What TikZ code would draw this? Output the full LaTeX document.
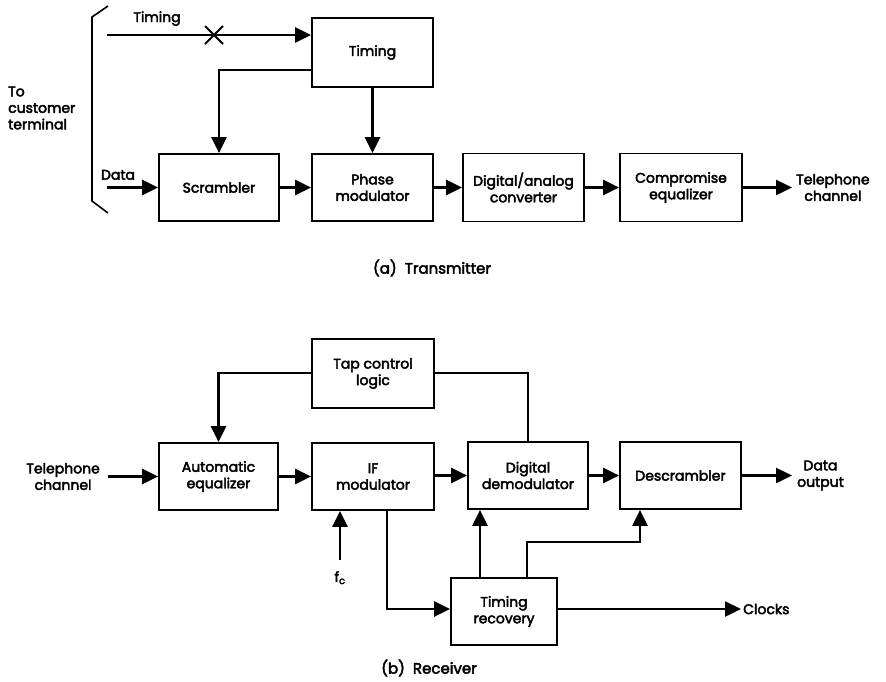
\documentclass[tikz,border=0pt]{standalone}
\usepackage{fontspec}
\setmainfont{Poppins}[FakeBold=3]
\usetikzlibrary{arrows.meta,calc}
\begin{document}
\begin{tikzpicture}[x=1pt,y=-1pt,
  box/.style={draw,line width=1.8pt,rectangle,align=center,font=\fontsize{14}{16.5}\selectfont,inner sep=0pt},
  arr/.style={line width=2.4pt,-{Triangle[length=16pt,width=15pt]}},
  ln/.style={line width=2.4pt},
  lbl/.style={align=center,font=\fontsize{14}{16.5}\selectfont,inner sep=0pt}]
\useasboundingbox (0,0) rectangle (886,681);
% ---------- Transmitter ----------
\node[box,minimum width=121pt,minimum height=69pt] (timing) at (372.5,52.5) {Timing};
\node[box,minimum width=120pt,minimum height=67pt] (scr) at (219,187.5) {Scrambler};
\node[box,minimum width=121pt,minimum height=67pt] (pm) at (372.5,187.5) {Phase\\modulator};
\node[box,minimum width=121pt,minimum height=68pt] (da) at (523.5,187.5) {Digital/analog\\converter};
\node[box,minimum width=122pt,minimum height=68pt] (ce) at (681,187.5) {Compromise\\equalizer};
\coordinate (tin) at (107,35);
\coordinate (din) at (107,187.5);
\coordinate (tout) at (792,187.5);
\draw[arr] (tin) -- (timing.west |- tin);
\coordinate (xm) at (214,35);
\draw[line width=2pt] ($(xm)+(-9,-9)$) -- ($(xm)+(9,9)$);
\draw[line width=2pt] ($(xm)+(-9,9)$) -- ($(xm)+(9,-9)$);
\coordinate (tl) at (312,70);
\draw[arr] (timing.west |- tl) -| (scr.north);
\draw[arr] (timing.south) -- (pm.north);
\draw[arr] (din) -- (scr.west);
\draw[arr] (scr) -- (pm);
\draw[arr] (pm) -- (da);
\draw[arr] (da) -- (ce);
\draw[arr] (ce.east) -- (tout);
\node[lbl,anchor=south] (tlab) at (157,26) {Timing};
\node[lbl,anchor=south] (dlab) at (118,180) {Data};
\node[lbl,anchor=west] (tel1) at (796,187.5) {Telephone\\channel};
\node[lbl,align=left,anchor=west] (cust) at (8,108) {To\\customer\\terminal};
\coordinate (b1) at (108,6);
\coordinate (b2) at (92,17);
\coordinate (b3) at (92,201);
\coordinate (b4) at (108,213);
\draw[line width=1.6pt] (b1) -- (b2) -- (b3) -- (b4);
\node[lbl,font=\fontsize{15}{17}\selectfont] (capa) at (432,268) {(a)\ \ Transmitter};
% ---------- Receiver ----------
\node[box,minimum width=122pt,minimum height=69pt] (tap) at (373,373.5) {Tap control\\logic};
\node[box,minimum width=119pt,minimum height=67pt] (aeq) at (218.5,476.5) {Automatic\\equalizer};
\node[box,minimum width=122pt,minimum height=67pt] (ifm) at (373,476.5) {IF\\modulator};
\node[box,minimum width=120pt,minimum height=67pt] (dem) at (528,475.5) {Digital\\demodulator};
\node[box,minimum width=121pt,minimum height=67pt] (des) at (680.5,475.5) {Descrambler};
\node[box,minimum width=106pt,minimum height=67pt] (tr) at (504,611.5) {Timing\\recovery};
\coordinate (rin) at (108,476.5);
\coordinate (dout) at (792,475.5);
\coordinate (fc) at (340,560);
\coordinate (clk) at (741,609);
\draw[arr] (rin) -- (aeq.west);
\draw[arr] (aeq) -- (ifm);
\draw[arr] (ifm.east |- dem) -- (dem.west);
\draw[arr] (dem) -- (des);
\draw[arr] (des.east) -- (dout);
\coordinate (tapl) at (312,373);
\draw[arr] (tap.west |- tapl) -| (aeq.north);
\draw[ln] (tap.east |- tapl) -| (dem.north);
\draw[arr] (fc) -- (fc |- ifm.south);
\coordinate (ifd) at (387,510);
\draw[arr] (ifd) |- (tr.west |- clk);
\coordinate (tr1) at (480,578);
\draw[arr] (tr1) -- (tr1 |- dem.south);
\coordinate (tr2) at (527,578);
\coordinate (tr3) at (640,542);
\draw[arr] (tr2) |- (tr3) -- (tr3 |- des.south);
\draw[arr] (tr.east |- clk) -- (clk);
\node[lbl,anchor=east] (tel2) at (100,476.5) {Telephone\\channel};
\node[lbl,anchor=west] (dolab) at (797,475.5) {Data\\output};
\node[lbl,anchor=west] (clab) at (743,609) {Clocks};
\node[lbl,anchor=north] (fclab) at (340,571) {f\textsubscript{c}};
\node[lbl,font=\fontsize{15}{17}\selectfont] (capb) at (429,668) {(b)\ \ Receiver};
\end{tikzpicture}
\end{document}
